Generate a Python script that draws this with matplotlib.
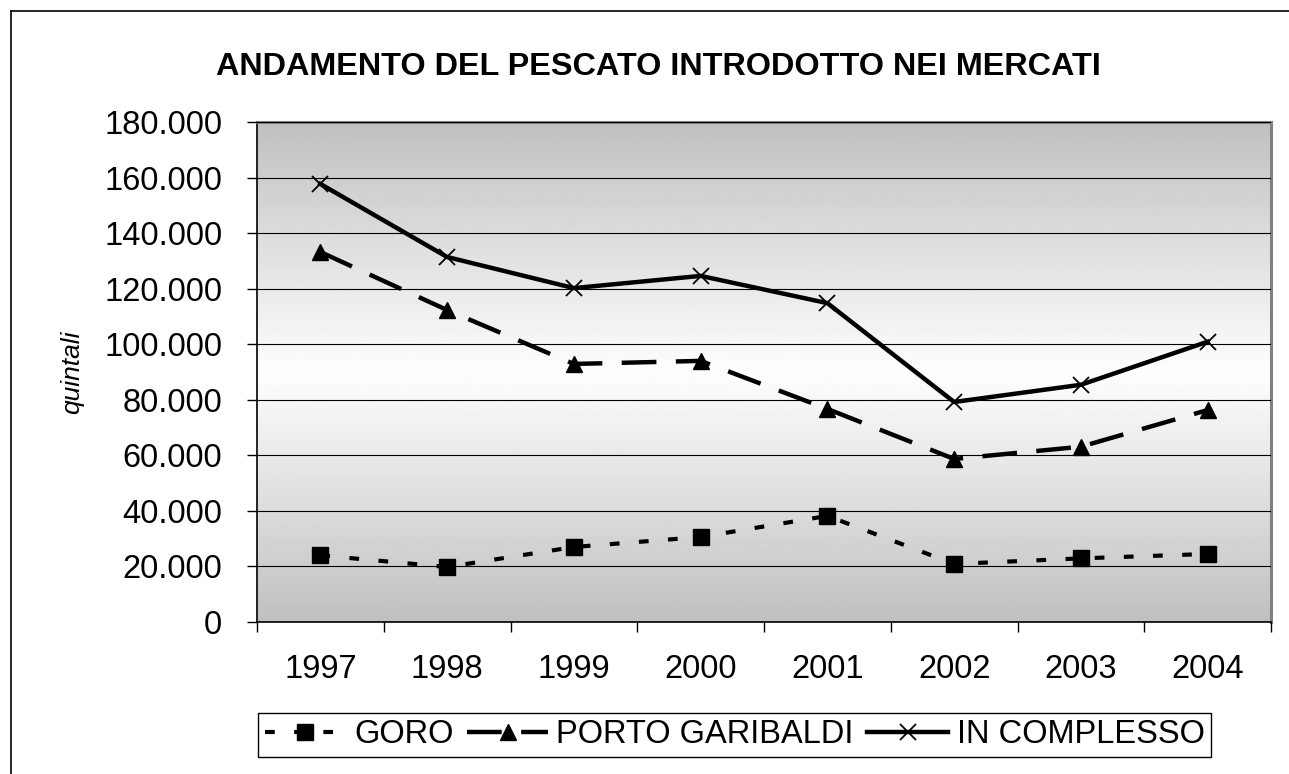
import matplotlib
matplotlib.use("Agg")
import matplotlib.pyplot as plt
from matplotlib.ticker import FuncFormatter
import numpy as np

plt.rcParams['font.family'] = ['Liberation Sans', 'DejaVu Sans']
plt.rcParams['lines.scale_dashes'] = False

anni = ['1997', '1998', '1999', '2000', '2001', '2002', '2003', '2004']
goro = [24000, 19800, 27000, 30600, 38200, 20900, 22900, 24500]
porto_garibaldi = [133200, 112300, 92900, 94000, 76700, 58700, 63100, 76300]
in_complesso = [157700, 131400, 120200, 124600, 114800, 79200, 85400, 100900]

W, H = 1289, 774
fig = plt.figure(figsize=(W / 100, H / 100), dpi=100)
ax = fig.add_axes([257 / W, 1 - 622 / H, 1014 / W, 500 / H])

# cornice del grafico (solo sinistra e sopra)
fig.add_artist(plt.Line2D([11 / W, 11 / W], [0, 1 - 11 / H], color='black', lw=1.2))
fig.add_artist(plt.Line2D([11 / W, 1], [1 - 11 / H, 1 - 11 / H], color='black', lw=1.2))

# sfondo sfumato: grigio in alto e in basso, bianco al centro
t = np.linspace(0, 1, 256)
shade = 1 - np.abs(t - 0.5) * 2
grad = (192 + (254 - 192) * shade) / 255
ax.imshow(grad[:, None], cmap='gray', vmin=0, vmax=1, aspect='auto',
          extent=[-0.5, 7.5, 0, 180000], origin='lower', zorder=0)

x = np.arange(len(anni))
ax.plot(x, goro, color='black', lw=3.0, dashes=(7, 14), marker='s', ms=11.5,
        label='GORO', zorder=3)
ax.plot(x, porto_garibaldi, color='black', lw=3.2, dashes=(25, 14), marker='^', ms=11,
        label='PORTO GARIBALDI', zorder=3)
ax.plot(x, in_complesso, color='black', lw=3.2, marker='x', ms=12, mew=1.3,
        label='IN COMPLESSO', zorder=3)

ax.set_xlim(-0.5, 7.5)
ax.set_ylim(0, 180000)
ax.set_yticks(np.arange(0, 180001, 20000))
ax.yaxis.set_major_formatter(FuncFormatter(lambda v, p: f"{int(v):,}".replace(',', '.')))
ax.grid(axis='y', color='black', lw=0.8, zorder=1)
ax.set_axisbelow(False)

ax.set_xticks(np.arange(-0.5, 8, 1))
ax.set_xticklabels([])
ax.set_xticks(x, minor=True)
ax.set_xticklabels(anni, minor=True)
ax.tick_params(axis='x', which='major', length=7, width=1, direction='out')
ax.tick_params(axis='x', which='minor', length=0, pad=23, labelsize=23.5)
ax.tick_params(axis='y', length=7, width=1, direction='out', pad=18, labelsize=23.5)

for s in ['top', 'right']:
    ax.spines[s].set_color('#808080')
    ax.spines[s].set_linewidth(2.2)
ax.spines['left'].set_linewidth(1.2)
ax.spines['bottom'].set_linewidth(1.2)

fig.text(0.511, 1 - 75 / H, 'ANDAMENTO DEL PESCATO INTRODOTTO NEI MERCATI',
         ha='center', va='baseline', fontsize=23.3, fontweight='bold')
fig.text(72 / W, 1 - 372 / H, 'quintali', rotation=90, ha='center', va='center',
         fontsize=19, fontstyle='italic')

leg = fig.legend(loc='lower left', bbox_to_anchor=(258 / W, 1 - 757 / H), ncol=3,
                 fontsize=23.5, frameon=True, fancybox=False, edgecolor='black',
                 framealpha=1, borderpad=0.2, handlelength=2.5, handletextpad=0.25,
                 columnspacing=0.4, borderaxespad=0)
leg.get_frame().set_linewidth(1.0)

fig.savefig('out.png', dpi=100)
